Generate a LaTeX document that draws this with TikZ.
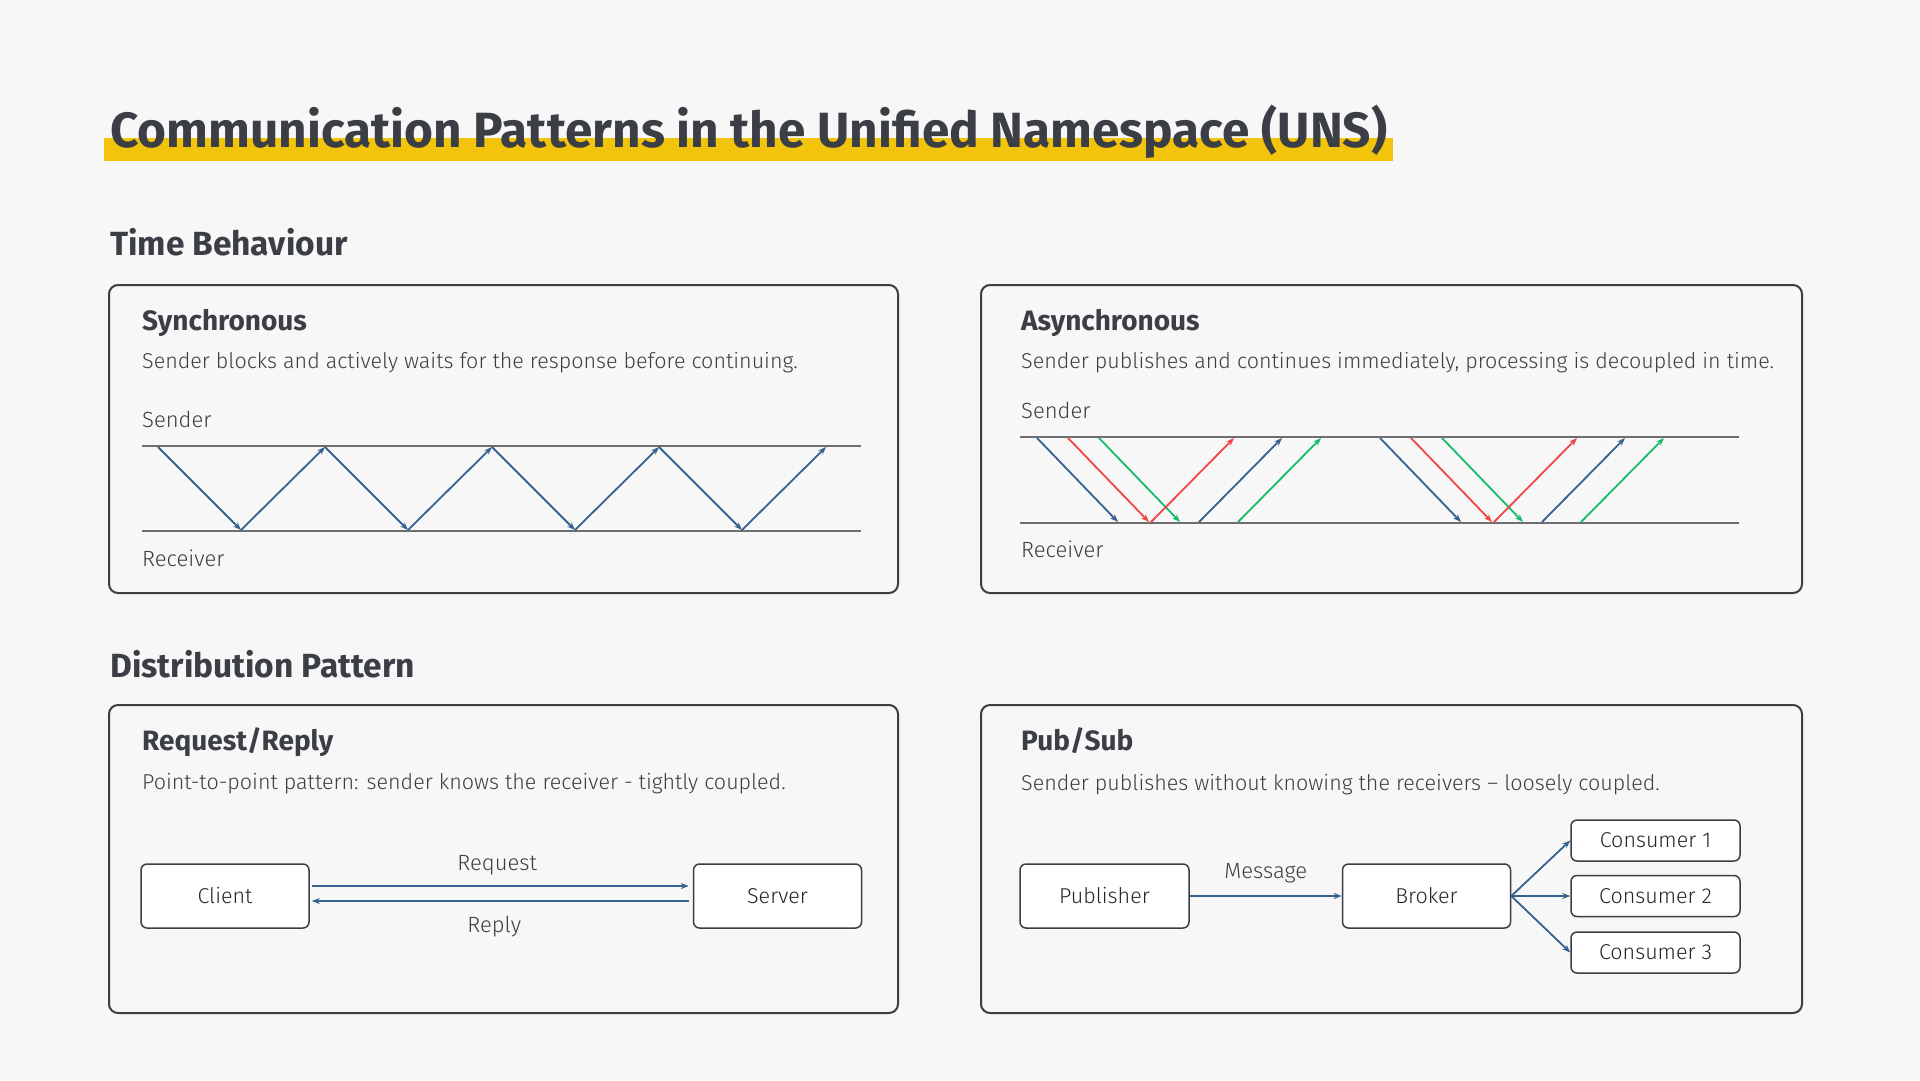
\documentclass[tikz,border=0pt]{standalone}
\usepackage{fontspec}
\setmainfont{Fira Sans}
\newfontfamily\lightfont[Ligatures=TeX]{Fira Sans Light}
\usetikzlibrary{arrows.meta,positioning}

\definecolor{ink}{HTML}{3B3E45}
\definecolor{paper}{HTML}{F7F7F7}
\definecolor{hilite}{HTML}{F2C40C}
\definecolor{lanegray}{HTML}{6E6E6E}
\definecolor{flowblue}{HTML}{35628F}
\definecolor{flowred}{HTML}{F04646}
\definecolor{flowgreen}{HTML}{14BD6A}

\begin{document}
\begin{tikzpicture}[
    x=1pt,
    y=-1pt,
    >={Stealth[length=8pt,width=6pt]},
    heading/.style={anchor=base west, inner sep=0pt, text=ink, font=\bfseries\fontsize{33.5pt}{40pt}\selectfont},
    paneltitle/.style={anchor=base west, inner sep=0pt, text=ink, font=\bfseries\fontsize{28pt}{33pt}\selectfont},
    desc/.style={anchor=base west, inner sep=0pt, text=ink, font=\lightfont\fontsize{21.5pt}{26pt}\selectfont},
    lanelabel/.style={anchor=base west, inner sep=0pt, text=ink, font=\lightfont\fontsize{22pt}{26pt}\selectfont},
    panel/.style={draw=ink, line width=2pt, rounded corners=9pt, fill=paper},
    lane/.style={draw=lanegray, line width=1.8pt},
    msg/.style={->, line width=1.8pt},
    box/.style={draw=ink, line width=1.5pt, rounded corners=6pt, fill=white,
        minimum width=168pt, minimum height=64pt, inner sep=0pt,
        font=\lightfont\fontsize{21.5pt}{26pt}\selectfont, text=black!85},
    consbox/.style={box, minimum height=41pt},
    arrowlabel/.style={inner sep=0pt, anchor=base, text=ink, font=\lightfont\fontsize{22pt}{26pt}\selectfont}
]

% 1. Background and Title Highlight
\fill[paper] (0,0) rectangle (1920,1080);
\fill[hilite] (104,138) rectangle (1393,161);
\node[anchor=base west, inner sep=0pt, text=ink, font=\bfseries\fontsize{49.5pt}{58pt}\selectfont]
    (title) at (110,147) {Communication Patterns in the Unified Namespace (UNS)};

% 2. Section Headings
\node[heading] (timehead) at (110,255) {Time Behaviour};
\node[heading] (disthead) at (110,677) {Distribution Pattern};

% 3. Panel Frames
\draw[panel] (109,285) rectangle (898,593);
\draw[panel] (981,285) rectangle (1802,593);
\draw[panel] (109,705) rectangle (898,1013);
\draw[panel] (981,705) rectangle (1802,1013);

% 4. Synchronous Panel
\node[paneltitle] (synctitle) at (142,330) {Synchronous};
\node[desc] (syncdesc) at (142,368) {Sender blocks and actively waits for the response before continuing.};
\node[lanelabel] (syncsender) at (142,427) {Sender};
\node[lanelabel] (syncreceiver) at (142,566) {Receiver};
\draw[lane] (142,446) -- (861,446);
\draw[lane] (142,531) -- (861,531);
% zigzag: request down, response up
\foreach \k in {0,...,3} {
    \draw[msg, flowblue] (158+167*\k, 447) -- (241+167*\k, 530);
    \draw[msg, flowblue] (241+167*\k, 530) -- (325+167*\k, 447);
}

% 5. Asynchronous Panel
\node[paneltitle] (asynctitle) at (1021,330) {Asynchronous};
\node[desc] (asyncdesc) at (1021,368) {Sender publishes and continues immediately, processing is decoupled in time.};
\node[lanelabel] (asyncsender) at (1021,418) {Sender};
\node[lanelabel] (asyncreceiver) at (1021,557) {Receiver};
\draw[lane] (1020,437) -- (1739,437);
\draw[lane] (1020,523) -- (1739,523);
% two bursts of overlapping messages
\foreach \g in {0,343} {
    \foreach \s/\e/\c in {1037/1118/flowblue, 1068/1149/flowred, 1099/1180/flowgreen}
        \draw[msg, \c] (\s+\g, 438) -- (\e+\g, 522);
    \foreach \s/\e/\c in {1151/1234/flowred, 1199/1282/flowblue, 1238/1321/flowgreen}
        \draw[msg, \c] (\s+\g, 522) -- (\e+\g, 438);
}

% 6. Request/Reply Panel
\node[paneltitle] (reqtitle) at (142,750) {Request/Reply};
\node[desc] (reqdesc) at (142,789) {Point-to-point pattern: sender knows the receiver - tightly coupled.};
\node[box] (client) at (225,896) {Client};
\node[box, right=383pt of client] (server) {Server};
\draw[msg, flowblue, shorten >=4pt, shorten <=2pt] ([yshift=10pt]client.east) -- ([yshift=10pt]server.west)
    node[midway, arrowlabel, yshift=16pt, xshift=-4pt] {Request};
\draw[msg, flowblue, shorten >=2pt, shorten <=4pt] ([yshift=-5pt]server.west) -- ([yshift=-5pt]client.east)
    node[midway, arrowlabel, yshift=-31pt, xshift=-7pt] {Reply};

% 7. Pub/Sub Panel
\node[paneltitle] (pubtitle) at (1021,750) {Pub/Sub};
\node[desc] (pubdesc) at (1021,790) {Sender publishes without knowing the receivers \textendash{} loosely coupled.};
\node[box, minimum width=169pt] (publisher) at (1104.5,896) {Publisher};
\node[box, right=152pt of publisher] (broker) {Broker};
\node[consbox, minimum width=169pt, right=59pt of broker] (consumer2) {Consumer 2};
\node[consbox, minimum width=169pt, above=13pt of consumer2] (consumer1) {Consumer 1};
\node[consbox, minimum width=169pt, below=14pt of consumer2] (consumer3) {Consumer 3};
\draw[msg, flowblue] (publisher.east) -- (broker.west)
    node[midway, arrowlabel, yshift=18pt] {Message};
\foreach \c in {consumer1, consumer2, consumer3}
    \draw[msg, flowblue] (broker.east) -- (\c.west);

\end{tikzpicture}
\end{document}
